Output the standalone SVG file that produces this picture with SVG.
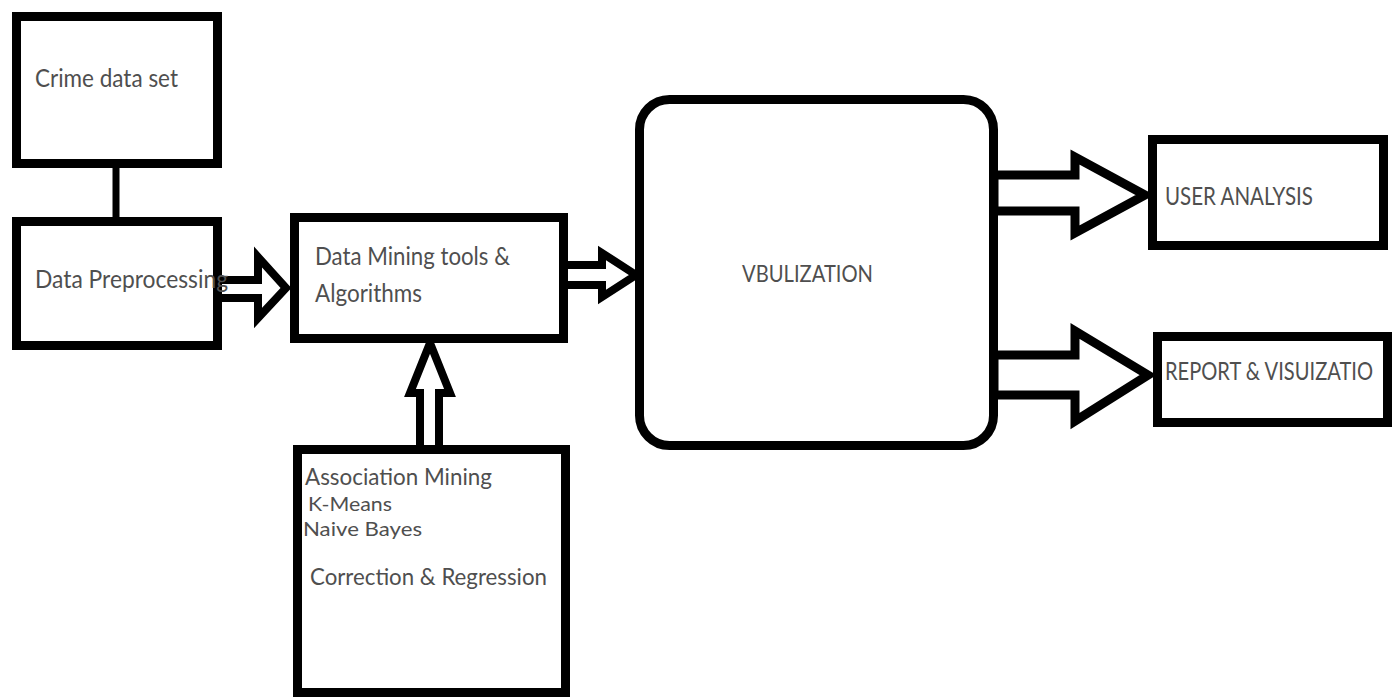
<svg xmlns="http://www.w3.org/2000/svg" width="1398" height="698" viewBox="0 0 1398 698">
  <style>
    .box { fill: #ffffff; stroke: #000000; stroke-width: 9; }
    .lbl { font-family: Lato, "Open Sans", "Liberation Sans", sans-serif; fill: #4f4f4f; }
    .big { font-size: 25px; }
    .mid { font-size: 23px; }
    .small { font-size: 20px; }
    .arrow { fill: #ffffff; stroke: #000000; stroke-linejoin: miter; stroke-miterlimit: 10; }
    .link { stroke: #000000; stroke-width: 7; fill: none; }
  </style>
  <rect width="1398" height="698" fill="#ffffff"/>

  <g id="connectors">
    <!-- plain link between the data set and preprocessing -->
    <line class="link" x1="116" y1="164" x2="116" y2="222"/>
    <!-- hollow block arrows -->
    <polygon class="arrow" stroke-width="8" points="218,280 258,280 258,257 286,288 258,318 258,298 218,298"/>
    <polygon class="arrow" stroke-width="8" points="564,265 602,265 602,253 636,275 602,297 602,285 564,285"/>
    <polygon class="arrow" stroke-width="8" points="420,449 420,393 410,393 430,343 450,393 439,393 439,449"/>
    <polygon class="arrow" stroke-width="9" points="994,175 1075,175 1075,157 1145,195 1075,233 1075,211 994,211"/>
    <polygon class="arrow" stroke-width="9" points="994,355 1075,355 1075,331 1148,375 1075,421 1075,395 994,395"/>
  </g>

  <g id="crime-data-set">
    <rect class="box" x="16.5" y="16.5" width="201" height="147"/>
    <text class="lbl big" x="35" y="87" textLength="143" lengthAdjust="spacingAndGlyphs">Crime data set</text>
  </g>

  <g id="data-preprocessing">
    <rect class="box" x="16.5" y="221.5" width="201" height="124"/>
    <text class="lbl big" x="35" y="288" textLength="193" lengthAdjust="spacingAndGlyphs">Data Preprocessing</text>
  </g>

  <g id="data-mining-tools">
    <rect class="box" x="294.5" y="217.5" width="269" height="121"/>
    <text class="lbl big" x="315" y="265" textLength="195" lengthAdjust="spacingAndGlyphs">Data Mining tools &amp;</text>
    <text class="lbl big" x="315" y="302" textLength="107" lengthAdjust="spacingAndGlyphs">Algorithms</text>
  </g>

  <g id="algorithms-list">
    <rect class="box" x="297.5" y="449.5" width="268" height="243"/>
    <text class="lbl mid" x="305" y="485" textLength="187" lengthAdjust="spacingAndGlyphs">Association Mining</text>
    <text class="lbl small" x="308" y="511" textLength="84" lengthAdjust="spacingAndGlyphs">K-Means</text>
    <text class="lbl small" x="303" y="536" textLength="119" lengthAdjust="spacingAndGlyphs">Naive Bayes</text>
    <text class="lbl mid" x="310" y="585" textLength="237" lengthAdjust="spacingAndGlyphs">Correction &amp; Regression</text>
  </g>

  <g id="vbulization">
    <rect class="box" x="639.5" y="99.5" width="354" height="346" rx="30" ry="30"/>
    <text class="lbl mid" x="742" y="282" textLength="131" lengthAdjust="spacingAndGlyphs">VBULIZATION</text>
  </g>

  <g id="user-analysis">
    <rect class="box" x="1152.5" y="139.5" width="231" height="106"/>
    <text class="lbl big" x="1165" y="205" textLength="148" lengthAdjust="spacingAndGlyphs">USER ANALYSIS</text>
  </g>

  <g id="report-visualization">
    <rect class="box" x="1157.5" y="336.5" width="230" height="86"/>
    <text class="lbl big" x="1165" y="380" textLength="208" lengthAdjust="spacingAndGlyphs">REPORT &amp; VISUIZATIO</text>
  </g>
</svg>
